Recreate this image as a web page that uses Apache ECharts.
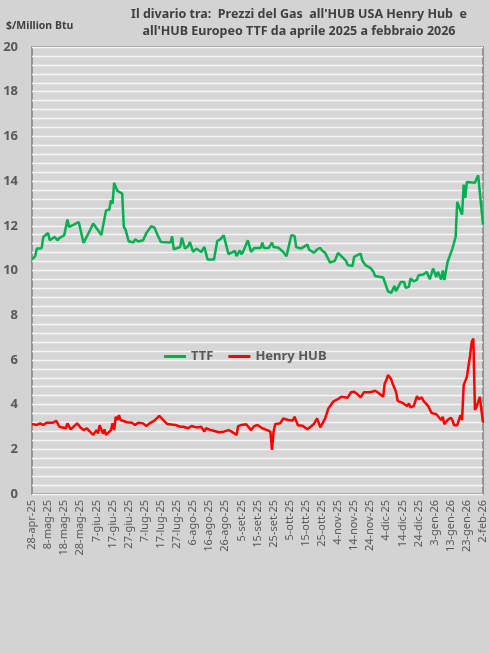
<!DOCTYPE html>
<html>
  <head>
    <meta charset="UTF-8">
    <title>TTF vs Henry Hub</title>
    <script src="https://cdn.jsdelivr.net/npm/echarts@6/dist/echarts.min.js"></script>
    <style>
    * {
      margin: 0;
      padding: 0;
    }
    body {
      background: #d3d3d3;
    }
    </style>
  </head>
  <body>
    <div id="main" style="width: 490px;height: 654px"></div>

    <script>
// etichette asse x, una ogni 10 giorni a partire dal 28-apr-25
var xLabels = ['28-apr-25', '8-mag-25', '18-mag-25', '28-mag-25', '7-giu-25', '17-giu-25', '27-giu-25',
  '7-lug-25', '17-lug-25', '27-lug-25', '6-ago-25', '16-ago-25', '26-ago-25', '5-set-25', '15-set-25',
  '25-set-25', '5-ott-25', '15-ott-25', '25-ott-25', '4-nov-25', '14-nov-25', '24-nov-25', '4-dic-25',
  '14-dic-25', '24-dic-25', '3-gen-26', '13-gen-26', '23-gen-26', '2-feb-26']

// giorni dal 28-apr-25 e prezzi ($/MMBtu)
var ttfDays = [0, 2, 3, 6, 7, 8, 10, 11, 12, 14, 16, 17, 20, 22, 23, 26, 29, 32, 36, 38, 41, 43, 46, 48, 49, 50,
  51, 53, 56, 57, 58, 60, 63, 64, 66, 69, 71, 74, 76, 78, 80, 86, 87, 88, 92, 93, 95, 97, 98, 100, 102, 105,
  107, 109, 113, 115, 117, 119, 122, 126, 127, 129, 130, 131, 134, 135, 136, 138, 142, 143, 144, 147, 149,
  150, 153, 156, 158, 161, 163, 164, 167, 168, 171, 172, 175, 177, 179, 180, 182, 185, 188, 190, 192, 195,
  196, 199, 200, 204, 205, 206, 207, 210, 212, 213, 218, 219, 221, 223, 224, 225, 226, 229, 231, 232, 234,
  235, 237, 239, 240, 243, 245, 247, 249, 251, 252, 254, 255, 256, 258, 261, 263, 264, 267, 268, 269, 270,
  275, 277, 278, 280]
var ttfVals = [10.5, 10.64, 10.98, 11.0, 11.5, 11.43, 11.68, 11.35, 11.4, 11.5, 11.35, 11.45, 11.58, 12.28,
  11.95, 12.05, 12.17, 11.23, 11.8, 12.1, 11.8, 11.58, 12.7, 12.72, 13.14, 12.99, 13.92, 13.56, 13.44, 11.95,
  11.85, 11.31, 11.25, 11.4, 11.3, 11.35, 11.68, 11.98, 11.92, 11.58, 11.28, 11.25, 11.53, 10.95, 11.05,
  11.47, 10.98, 11.1, 11.28, 10.83, 10.98, 10.83, 11.05, 10.49, 10.49, 11.32, 11.4, 11.58, 10.73, 10.88,
  10.64, 10.9, 10.73, 10.83, 11.35, 11.32, 10.83, 11.01, 11.01, 11.25, 11.01, 11.01, 11.25, 11.05, 11.02,
  10.83, 10.64, 11.58, 11.55, 11.05, 10.98, 10.9, 11.16, 10.94, 10.79, 10.94, 11.01, 10.9, 10.79, 10.36,
  10.43, 10.79, 10.64, 10.43, 10.24, 10.2, 10.61, 10.76, 10.46, 10.5, 10.24, 10.12, 9.94, 9.75, 9.69, 9.65,
  9.07, 9.0, 9.02, 9.31, 9.08, 9.49, 9.49, 9.22, 9.27, 9.64, 9.52, 9.58, 9.79, 9.82, 9.94, 9.61, 10.09, 9.71,
  9.94, 9.6, 10.0, 9.57, 10.38, 10.98, 11.5, 13.07, 12.5, 13.84, 13.25, 13.96, 13.93, 14.26, 14.19, 12.06]

var hhDays = [0, 3, 5, 6, 7, 9, 13, 15, 17, 21, 22, 24, 28, 30, 32, 34, 36, 38, 40, 41, 42, 44, 45, 46, 47,
  49, 50, 51, 52, 53, 54, 55, 59, 62, 64, 66, 69, 71, 73, 76, 79, 80, 84, 89, 92, 94, 97, 99, 102, 105, 107,
  108, 111, 116, 119, 122, 124, 127, 128, 130, 133, 134, 136, 138, 140, 141, 143, 146, 148, 149, 150, 151,
  154, 156, 159, 162, 163, 165, 168, 171, 173, 175, 177, 178, 179, 182, 183, 184, 187, 190, 192, 193, 196,
  198, 200, 202, 204, 206, 207, 210, 211, 213, 215, 218, 219, 220, 221, 223, 224, 226, 227, 230, 231, 233,
  234, 235, 237, 238, 239, 240, 242, 243, 246, 248, 251, 252, 254, 255, 256, 258, 260, 261, 262, 264, 266,
  267, 268, 270, 272, 273, 274, 275, 276, 278, 280]
var hhVals = [3.13, 3.09, 3.16, 3.23, 3.09, 3.19, 3.19, 3.28, 3.01, 2.94, 3.16, 2.89, 3.16, 2.98, 2.86, 2.94,
  2.79, 2.64, 2.86, 2.71, 3.08, 2.71, 2.89, 2.64, 2.71, 2.86, 3.16, 2.86, 3.46, 3.31, 3.53, 3.31, 3.21, 3.19,
  3.09, 3.19, 3.16, 3.04, 3.16, 3.28, 3.5, 3.5, 3.13, 3.09, 3.01, 3.01, 2.94, 3.04, 2.98, 3.01, 2.79, 2.94,
  2.86, 2.76, 2.79, 2.86, 2.79, 2.64, 3.04, 3.09, 3.12, 3.04, 2.86, 3.04, 3.09, 3.08, 2.94, 2.86, 2.79, 1.97,
  2.79, 3.13, 3.16, 3.38, 3.31, 3.29, 3.46, 3.08, 3.05, 2.9, 3.01, 3.13, 3.38, 3.35, 2.98, 3.38, 3.35, 3.83,
  4.13, 4.25, 4.35, 4.28, 4.31, 4.55, 4.57, 4.47, 4.32, 4.55, 4.53, 4.55, 4.47, 4.62, 4.53, 4.35, 4.95, 5.1,
  5.32, 5.13, 4.92, 4.57, 4.17, 4.08, 4.02, 3.93, 4.05, 3.88, 3.93, 3.9, 4.38, 4.25, 4.32, 4.17, 3.93, 3.63,
  3.57, 3.49, 3.31, 3.46, 3.12, 3.31, 3.41, 3.31, 3.08, 3.08, 3.53, 3.31, 4.87, 5.24, 6.21, 6.81, 6.96, 3.76,
  3.9, 4.35, 3.19]

function pairs(days, vals) {
  return days.map((d, i) => [d, vals[i]])
}

var grey = '#595959'
var myChart = echarts.init(document.getElementById('main'))
var option = {
  backgroundColor: '#d3d3d3',
  animation: false,
  textStyle: { fontFamily: 'Noto Sans' },
  title: [{
    text: "Il divario tra:  Prezzi del Gas  all'HUB USA Henry Hub  e\nall'HUB Europeo TTF da aprile 2025 a febbraio 2026",
    left: 294,
    top: 1,
    textAlign: 'center',
    textStyle: { fontSize: 12.5, fontWeight: 'bold', color: '#404040', lineHeight: 17 }
  }, {
    text: '$/Million Btu',
    left: 1,
    top: 16,
    textStyle: { fontSize: 10.5, fontWeight: 'bold', color: '#404040' }
  }],
  legend: {
    left: 164,
    top: 350,
    padding: 0,
    itemGap: 15,
    itemWidth: 22,
    itemHeight: 3,
    icon: 'rect',
    textStyle: { fontSize: 13, color: grey, fontWeight: 'bold' },
    data: ['TTF', 'Henry HUB']
  },
  grid: {
    left: 32,
    right: 7,
    top: 47,
    bottom: 160,
    show: true,
    borderColor: '#7f7f7f',
    borderWidth: 1.5,
    backgroundColor: '#d6d6d6',
    containLabel: false
  },
  xAxis: {
    type: 'value',
    min: 0,
    max: 280,
    interval: 10,
    axisLine: { show: false },
    axisTick: { show: false },
    splitLine: { show: false },
    axisLabel: {
      rotate: 90,
      fontSize: 11,
      color: grey,
      margin: 6,
      formatter: v => xLabels[Math.round(v / 10)]
    }
  },
  yAxis: {
    type: 'value',
    min: 0,
    max: 20,
    interval: 2,
    axisLine: { show: false },
    axisTick: { show: false },
    axisLabel: { fontSize: 13, fontWeight: 'bold', color: grey, margin: 14 },
    splitLine: { lineStyle: { color: '#f5f5f5', width: 1.3 } },
    minorTick: { show: false, splitNumber: 5 },
    minorSplitLine: { show: true, lineStyle: { color: '#f5f5f5', width: 1.3 } }
  },
  series: [{
    name: 'TTF',
    type: 'line',
    showSymbol: false,
    color: '#00b050',
    lineStyle: { width: 2.5 },
    data: pairs(ttfDays, ttfVals)
  }, {
    name: 'Henry HUB',
    type: 'line',
    showSymbol: false,
    color: '#ff0000',
    lineStyle: { width: 2.5 },
    data: pairs(hhDays, hhVals)
  }]
}
myChart.setOption(option)
    </script>
  </body>
</html>
